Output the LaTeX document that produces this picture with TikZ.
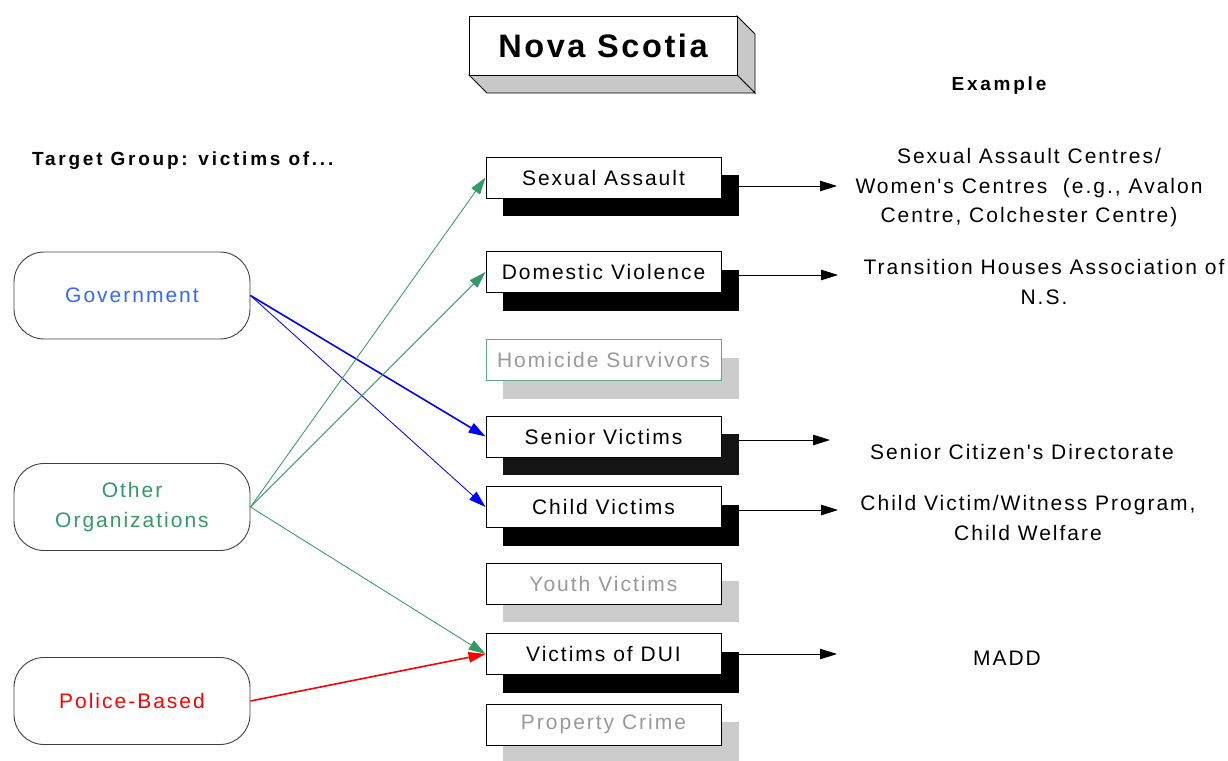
\documentclass[tikz,border=0pt]{standalone}
\usepackage{fontspec}
\setmainfont{Liberation Sans}
\newfontfamily\lblfont[LetterSpace=9.5]{Liberation Sans}
\newfontfamily\headfont[LetterSpace=14.5]{Liberation Sans}
\newfontfamily\titlefont[LetterSpace=8]{Liberation Sans}
\usetikzlibrary{arrows.meta}

\definecolor{govblue}{HTML}{3366FF}
\definecolor{linkblue}{HTML}{0000FF}
\definecolor{orggreen}{HTML}{339966}
\definecolor{polred}{HTML}{FF0000}
\definecolor{mutedtext}{HTML}{999999}
\definecolor{shadegray}{HTML}{CCCCCC}
\definecolor{facegray}{HTML}{C8C8C8}
\definecolor{paleedge}{HTML}{5FAA84}

\tikzset{
  catbox/.style={draw=black, fill=white, line width=0.9pt, minimum width=235pt,
    minimum height=41pt, inner sep=0pt, font=\lblfont\fontsize{21}{25}\selectfont},
  mutedbox/.style={catbox, text=mutedtext},
  boxshade/.style={draw=none, fill=black, minimum width=236pt, minimum height=41pt, inner sep=0pt},
  mutedshade/.style={boxshade, fill=shadegray},
  srcbox/.style={draw=black!75, fill=white, line width=0.9pt, rounded corners=30pt,
    minimum width=236pt, minimum height=87pt, inner sep=0pt, align=center,
    font=\lblfont\fontsize{21}{30}\selectfont},
  example/.style={align=center, inner sep=0pt, font=\lblfont\fontsize{21}{29.5}\selectfont},
  heading/.style={inner sep=0pt, font=\headfont\bfseries\fontsize{19}{22}\selectfont},
  tip/.style={-{Triangle[length=17pt, width=10.5pt]}},
  outlink/.style={tip, draw=black, line width=0.8pt},
  govlink/.style={tip, draw=linkblue, fill=linkblue},
  orglink/.style={tip, draw=orggreen, fill=orggreen, line width=0.8pt},
  pollink/.style={tip, draw=polred, fill=polred, line width=1.6pt},
}

\begin{document}
\begin{tikzpicture}[x=1pt, y=-1pt]
  \useasboundingbox (0,0) rectangle (1228,760);

  % raised title block
  \filldraw[fill=facegray, draw=black, line width=0.9pt]
    (737,16) -- (755,34) -- (755,93) -- (737,75) -- cycle;
  \filldraw[fill=facegray, draw=black, line width=0.9pt]
    (469,75) -- (737,75) -- (755,93) -- (487,93) -- cycle;
  \node[draw=black, fill=white, line width=0.9pt, minimum width=268pt, minimum height=59pt,
    inner sep=0pt, font=\titlefont\bfseries\fontsize{32.5}{36}\selectfont]
    (title) at (603,45.5) {Nova Scotia};

  % column headings
  \node[heading, anchor=base west] (tgt) at (32,165.5) {Target Group: victims of...};
  \node[heading, anchor=base] (exh) at (999,90.5) {Example};

  % target groups with their shadows
  \node[boxshade]   (sa-sh) at (621,195.5) {};
  \node[catbox]     (sa)    at (603.5,177.5) {Sexual Assault};
  \node[boxshade]   (dv-sh) at (621,290) {};
  \node[catbox]     (dv)    at (603.5,272) {Domestic Violence};
  \node[mutedshade] (hs-sh) at (621,378) {};
  \node[mutedbox, draw=paleedge] (hs) at (603.5,360) {Homicide Survivors};
  \node[boxshade, fill=black!92] (sv-sh) at (621,454.5) {};
  \node[catbox]     (sv)    at (603.5,436.5) {Senior Victims};
  \node[boxshade]   (cv-sh) at (621,525) {};
  \node[catbox]     (cv)    at (603.5,507) {Child Victims};
  \node[mutedshade] (yv-sh) at (621,601.5) {};
  \node[mutedbox]   (yv)    at (603.5,583.5) {Youth Victims};
  \node[boxshade]   (dui-sh) at (621,672) {};
  \node[catbox]     (dui)   at (603.5,654) {Victims of DUI};
  \node[mutedshade] (pc-sh) at (621,742.5) {};
  \node[mutedbox]   (pc)    at (603.5,724.5) {Property Crime};

  % sources
  \node[srcbox, text=govblue]  (gov) at (132,295.5) {Government};
  \node[srcbox, text=orggreen] (org) at (132,507) {Other\\Organizations};
  \node[srcbox, text=polred]   (pol) at (132,701) {Police-Based};

  % examples
  \node[example] (ex-sa)  at (1029,188) {Sexual Assault Centres/\\Women's Centres\ \ (e.g., Avalon\\Centre, Colchester Centre)};
  \node[example] (ex-th)  at (1044,282) {Transition Houses Association of\\N.S.};
  \node[example] (ex-sc)  at (1022,452) {Senior Citizen's Directorate};
  \node[example] (ex-cv)  at (1028,518) {Child Victim/Witness Program,\\Child Welfare};
  \node[example] (ex-mdd) at (1007,658) {MADD};

  % arrow tips towards the examples
  \coordinate (sa-tip)  at (837,186);
  \coordinate (dv-tip)  at (838,275);
  \coordinate (sv-tip)  at (830,440);
  \coordinate (cv-tip)  at (838,510);
  \coordinate (dui-tip) at (837,654);
  \draw[outlink] (sa-sh.east |- sa-tip) -- (sa-tip);
  \draw[outlink] (dv-sh.east |- dv-tip) -- (dv-tip);
  \draw[outlink] (sv-sh.east |- sv-tip) -- (sv-tip);
  \draw[outlink] (cv-sh.east |- cv-tip) -- (cv-tip);
  \draw[outlink] (dui-sh.east |- dui-tip) -- (dui-tip);

  % source links
  \draw[govlink, line width=1.6pt] (gov.east) -- (sv.west);
  \draw[govlink, line width=0.8pt] (gov.east) -- (cv.west);
  \draw[orglink] (org.east) -- (sa.west);
  \draw[orglink] (org.east) -- (dv.west);
  \draw[orglink] (org.east) -- (dui.west);
  \draw[pollink] (pol.east) -- (dui.west);
\end{tikzpicture}
\end{document}
